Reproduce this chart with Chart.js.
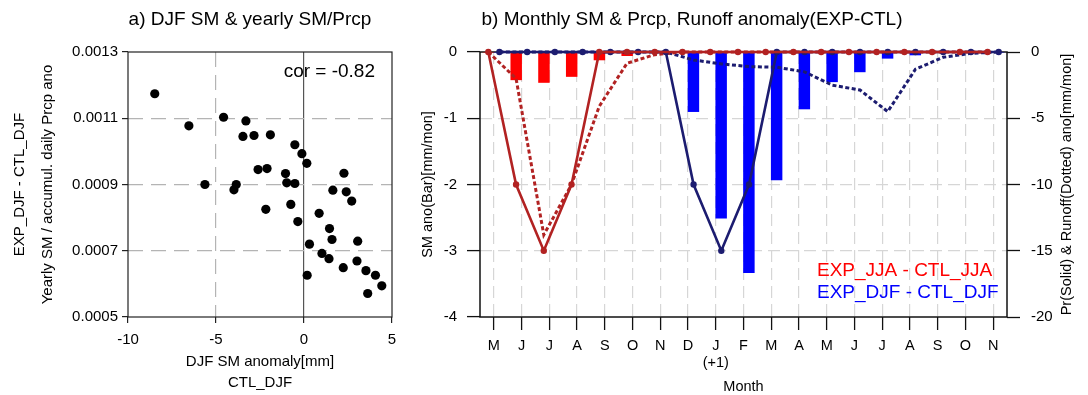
<!DOCTYPE html>
<html>
<head>
  <title>SM &amp; Prcp anomaly</title>
  <script src="https://cdn.jsdelivr.net/npm/chart.js"></script>
  <style>
    body { margin: 0; background: #fff; }
    .wrap { position: relative; width: 1088px; height: 395px; }
    #scatterChart { position: absolute; left: 0; top: 0; }
    #monthChart { position: absolute; left: 410px; top: 0; }
  </style>
</head>
<body>
  <div class="wrap">
    <canvas id="scatterChart" width="410" height="395"></canvas>
    <canvas id="monthChart" width="678" height="395"></canvas>
  </div>

  <script>
    const FONT = "'Liberation Sans', Arial, Helvetica, sans-serif";

    // a) DJF SM anomaly vs yearly SM / accumulated daily prcp anomaly
    const djfSm = [-8.48, -6.54, -5.63, -4.57, -3.30, -3.47, -2.84, -1.91, -3.85, -3.98,
                   -2.61, -2.10, -2.17, -1.05, -0.98, -0.52, -0.52, -0.12, 0.16, -0.75,
                   -0.35, 0.31, 0.18, 0.86, 1.02, 1.45, 1.59, 1.42, 1.64, 2.27,
                   2.40, 2.71, 2.23, 3.05, 3.01, 3.52, 4.06, 3.62, 4.42];
    const smPrcpRatio = [0.001174, 0.001077, 0.000900, 0.001103, 0.001092, 0.001045, 0.001048, 0.001050, 0.000900, 0.000884,
                         0.000945, 0.000948, 0.000825, 0.000933, 0.000905, 0.000903, 0.001020, 0.000993, 0.000964, 0.000840,
                         0.000788, 0.000720, 0.000626, 0.000813, 0.000692, 0.000767, 0.000734, 0.000676, 0.000883, 0.000934,
                         0.000878, 0.000850, 0.000649, 0.000729, 0.000669, 0.000640, 0.000626, 0.000571, 0.000594];
    const corText = 'cor = -0.82';

    // b) monthly anomalies, May .. Nov(+1)
    const months = ['M', 'J', 'J', 'A', 'S', 'O', 'N', 'D', ['J', '(+1)'], 'F', 'M', 'A', 'M', 'J', 'J', 'A', 'S', 'O', 'N'];
    const smJJA = [0, -0.42, -0.46, -0.37, -0.12, -0.055, 0, 0, 0, 0, 0, 0, 0, 0, 0, 0, 0, 0, 0];
    const smDJF = [0, 0, 0, 0, 0, 0, 0, -0.9, -2.51, -3.33, -1.93, -0.86, -0.45, -0.30, -0.095, -0.045, -0.01, 0, 0];
    const prJJA = [0, -10, -15, -10, 0, 0, 0, 0, 0, 0, 0, 0, 0, 0, 0, 0, 0, 0, 0];
    const prDJF = [0, 0, 0, 0, 0, 0, 0, -10, -15, -10, 0, 0, 0, 0, 0, 0, 0, 0, 0];
    const roJJA = [0, -2.0, -13.8, -10.0, -4.1, -0.85, -0.2, 0, 0, 0, 0, 0, 0, 0, 0, 0, 0, 0, 0];
    const roDJF = [0, 0, 0, 0, 0, 0, 0, -0.6, -0.9, -1.1, -1.15, -1.5, -2.5, -2.87, -4.5, -1.3, -0.4, -0.1, 0];

    const RED_LINE = '#b22222';
    const BLUE_LINE = '#1c1c70';
    const SHIFT = 0.2; // lines sit over their own bar of the group

    const shifted = (arr, d) => arr.map((v, i) => ({ x: i + d, y: v }));

    // free text drawn on the canvas (titles, legend, annotation)
    const textPlugin = {
      id: 'texts',
      afterDraw(chart, args, opts) {
        const ctx = chart.ctx;
        (opts.items || []).forEach(t => {
          ctx.save();
          ctx.font = t.font;
          ctx.fillStyle = t.color || '#000';
          ctx.textAlign = t.align || 'center';
          ctx.textBaseline = 'middle';
          ctx.translate(t.x, t.y);
          if (t.rotate) ctx.rotate(t.rotate);
          ctx.fillText(t.text, 0, 0);
          ctx.restore();
        });
      }
    };

    const framePlugin = {
      id: 'frame',
      beforeDatasetsDraw(chart, args, opts) {
        const { ctx, chartArea: a } = chart;
        ctx.save();
        ctx.setLineDash([]);
        ctx.strokeStyle = opts.color || '#000';
        ctx.lineWidth = opts.width || 1;
        ctx.strokeRect(a.left, a.top, a.right - a.left, a.bottom - a.top);
        ctx.restore();
      }
    };

    const near = (a, b) => Math.abs(a - b) < 1e-9;

    // ---------- panel a ----------
    new Chart(document.getElementById('scatterChart'), {
      type: 'scatter',
      data: {
        datasets: [{
          data: djfSm.map((x, i) => ({ x: x, y: smPrcpRatio[i] })),
          backgroundColor: '#000',
          borderWidth: 0,
          pointRadius: 4.6,
          clip: false
        }]
      },
      options: {
        responsive: false,
        animation: false,
        devicePixelRatio: 1,
        layout: { padding: { top: 52, right: 18, left: 0, bottom: 0 } },
        plugins: {
          legend: { display: false },
          tooltip: { enabled: false },
          frame: { color: '#222', width: 1.2 },
          texts: {
            items: [
              { text: 'a) DJF SM & yearly SM/Prcp', x: 250, y: 20, font: '19px ' + FONT },
              { text: corText, x: 375, y: 72, align: 'right', font: '19px ' + FONT }
            ]
          }
        },
        scales: {
          x: {
            type: 'linear',
            min: -10,
            max: 5,
            ticks: { stepSize: 5, color: '#000', padding: 8, font: { family: FONT, size: 15 } },
            grid: {
              color: c => {
                if (!c.tick) return 'rgba(0,0,0,0)';
                if (near(c.tick.value, 0)) return '#555';
                if (near(c.tick.value, -5)) return '#b4b4b4';
                return 'rgba(0,0,0,0)';
              },
              lineWidth: 1.2,
              tickLength: 6,
              tickColor: '#222',
              tickWidth: 1.2,
              tickBorderDash: []
            },
            border: { display: false, dash: c => (c.tick && near(c.tick.value, 0)) ? [] : [15, 8] },
            title: {
              display: true,
              text: ['DJF SM anomaly[mm]', 'CTL_DJF'],
              color: '#000',
              font: { family: FONT, size: 15, lineHeight: '21px' },
              padding: { top: 0, bottom: 1.5 }
            },
            afterFit: s => { s.height = 78; }
          },
          y: {
            type: 'linear',
            min: 0.0005,
            max: 0.0013,
            ticks: {
              stepSize: 0.0002,
              color: '#000',
              padding: 4,
              font: { family: FONT, size: 15 },
              callback: v => v.toFixed(4)
            },
            grid: {
              color: c => (c.tick && c.tick.value > 0.00051 && c.tick.value < 0.00129) ? '#b4b4b4' : 'rgba(0,0,0,0)',
              lineWidth: 1.2,
              tickLength: 6,
              tickColor: '#222',
              tickWidth: 1.2,
              tickBorderDash: []
            },
            border: { display: false, dash: [15, 8] },
            title: {
              display: true,
              text: ['EXP_DJF - CTL_DJF', 'Yearly SM / accumul. daily Prcp ano'],
              color: '#000',
              font: { family: FONT, size: 15, lineHeight: '28px' },
              padding: { top: 6, bottom: 0 }
            },
            afterFit: s => { s.width = 128; }
          }
        }
      },
      plugins: [framePlugin, textPlugin]
    });

    // ---------- panel b ----------
    new Chart(document.getElementById('monthChart'), {
      type: 'bar',
      data: {
        labels: months,
        datasets: [
          {
            type: 'line', data: shifted(prJJA, -SHIFT), xAxisID: 'xl', yAxisID: 'y2',
            borderColor: RED_LINE, backgroundColor: RED_LINE, borderWidth: 2.6,
            pointRadius: 3.2, pointBorderWidth: 0, tension: 0, clip: false, order: 0
          },
          {
            type: 'line', data: shifted(prDJF, SHIFT), xAxisID: 'xl', yAxisID: 'y2',
            borderColor: BLUE_LINE, backgroundColor: BLUE_LINE, borderWidth: 2.6,
            pointRadius: 3.2, pointBorderWidth: 0, tension: 0, clip: false, order: 1
          },
          {
            type: 'line', data: shifted(roJJA, -SHIFT), xAxisID: 'xl', yAxisID: 'y2',
            borderColor: RED_LINE, borderWidth: 3, borderDash: [4, 2.5],
            pointRadius: 0, tension: 0, clip: false, order: 2
          },
          {
            type: 'line', data: shifted(roDJF, SHIFT), xAxisID: 'xl', yAxisID: 'y2',
            borderColor: BLUE_LINE, borderWidth: 3, borderDash: [4, 2.5],
            pointRadius: 0, tension: 0, clip: false, order: 3
          },
          {
            label: 'EXP_JJA - CTL_JJA', data: smJJA, yAxisID: 'y',
            backgroundColor: '#ff0000', borderWidth: 0,
            barThickness: 10.8, order: 4
          },
          {
            label: 'EXP_DJF - CTL_DJF', data: smDJF, yAxisID: 'y',
            backgroundColor: '#0000ff', borderWidth: 0,
            barThickness: 10.8, order: 5
          }
        ]
      },
      options: {
        responsive: false,
        animation: false,
        devicePixelRatio: 1,
        layout: { padding: { top: 52, right: 0, left: 0, bottom: 0 } },
        plugins: {
          legend: { display: false },
          tooltip: { enabled: false },
          frame: { color: '#111', width: 1.5 },
          texts: {
            items: [
              { text: 'b) Monthly SM & Prcp, Runoff anomaly(EXP-CTL)', x: 282, y: 20, font: '19px ' + FONT },
              { text: 'EXP_JJA - CTL_JJA', x: 407, y: 271, align: 'left', color: '#f00', font: '19px ' + FONT },
              { text: 'EXP_DJF - CTL_DJF', x: 407, y: 293, align: 'left', color: '#00f', font: '19px ' + FONT },
              { text: 'Pr(Solid) & Runoff(Dotted) ano[mm/mon]', x: 657, y: 184.5, rotate: -Math.PI / 2, font: '14.5px ' + FONT }
            ]
          }
        },
        scales: {
          x: {
            type: 'category',
            offset: true,
            ticks: {
              color: '#000', padding: 7, maxRotation: 0, autoSkip: false,
              font: { family: FONT, size: 14.5, lineHeight: '17.5px' }
            },
            grid: {
              offset: false,
              color: '#d6d6d6',
              lineWidth: 1.2,
              tickLength: 13,
              tickColor: '#111',
              tickWidth: 1.3,
              tickBorderDash: []
            },
            border: { display: false, dash: [12, 6] },
            title: {
              display: true, text: 'Month', color: '#000',
              font: { family: FONT, size: 14.5, lineHeight: '16px' },
              padding: { top: 0, bottom: 0 }
            },
            afterFit: s => { s.height = 78; }
          },
          xl: { type: 'linear', display: false, offset: false, min: -0.5, max: 18.5 },
          y: {
            position: 'left',
            min: -4,
            max: 0,
            ticks: { stepSize: 1, color: '#000', padding: 10, font: { family: FONT, size: 15 } },
            grid: {
              color: c => (c.tick && c.tick.value > -3.5 && c.tick.value < -0.5) ? '#d6d6d6' : 'rgba(0,0,0,0)',
              lineWidth: 1.2,
              tickLength: 13,
              tickColor: '#111',
              tickWidth: 1.3,
              tickBorderDash: []
            },
            border: { display: false, dash: [12, 6] },
            title: {
              display: true, text: 'SM ano(Bar)[mm/mon]', color: '#000',
              font: { family: FONT, size: 14.5 },
              padding: { top: 9.3, bottom: 0 }
            },
            afterFit: s => { s.width = 70; }
          },
          y2: {
            position: 'right',
            min: -20,
            max: 0,
            ticks: { stepSize: 5, color: '#000', padding: 11, font: { family: FONT, size: 15 } },
            grid: {
              drawOnChartArea: false,
              tickLength: 13,
              tickColor: '#111',
              tickWidth: 1.3,
              tickBorderDash: []
            },
            border: { display: false },
            afterFit: s => { s.width = 81; }
          }
        }
      },
      plugins: [framePlugin, textPlugin]
    });
  </script>
</body>
</html>
